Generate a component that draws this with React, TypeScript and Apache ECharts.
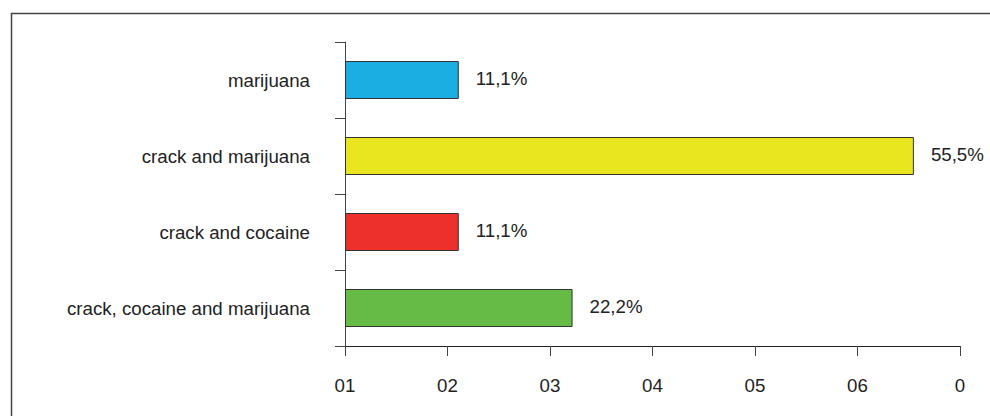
import React, { useEffect, useRef } from "react";
import * as echarts from "echarts";

const categories = ["marijuana", "crack and marijuana", "crack and cocaine", "crack, cocaine and marijuana"];
const values = [11.1, 55.5, 11.1, 22.2];
const barColors = ["#1BAEE3", "#E9E620", "#EE302C", "#66BB47"];
const tickLabels = ["01", "02", "03", "04", "05", "06", "0"];

export default function App() {
  const ref = useRef<HTMLDivElement>(null);
  useEffect(() => {
    if (!ref.current) return;
    const chart = echarts.init(ref.current, null, { renderer: "svg" });
    const font = "'Liberation Sans', Arial, sans-serif";
    chart.setOption({
      animation: false,
      backgroundColor: "#fff",
      graphic: [
        {
          type: "rect",
          shape: { x: 11.5, y: 13.5, width: 1000, height: 420 },
          style: { fill: "none", stroke: "#444", lineWidth: 1.5 },
          silent: true,
        },
      ],
      grid: { left: 345, right: 30, top: 42, bottom: 70, containLabel: false },
      xAxis: {
        type: "value",
        min: 0,
        max: 60,
        interval: 10,
        axisLine: { show: true, lineStyle: { color: "#222", width: 1 } },
        axisTick: { show: true, length: 10, lineStyle: { color: "#444" } },
        splitLine: { show: false },
        axisLabel: {
          margin: 30,
          fontSize: 18.7,
          fontFamily: font,
          color: "#222",
          formatter: (v: number) => tickLabels[Math.round(v / 10)] ?? "",
        },
      },
      yAxis: {
        type: "category",
        data: categories,
        inverse: true,
        axisLine: { show: true, lineStyle: { color: "#444", width: 1 } },
        axisTick: { show: true, length: 10, lineStyle: { color: "#444" } },
        axisLabel: { margin: 35, fontSize: 18.7, fontFamily: font, color: "#222" },
      },
      series: [
        {
          type: "bar",
          barWidth: "50%",
          data: values.map((v, i) => ({
            value: v,
            itemStyle: { color: barColors[i], borderColor: "#333", borderWidth: 1 },
          })),
          label: {
            show: true,
            position: "right",
            distance: 17,
            fontSize: 18.7,
            fontFamily: font,
            color: "#222",
            offset: [0, -2],
            formatter: (p: any) => String(p.value).replace(".", ",") + "%",
          },
        },
      ],
    });
    return () => chart.dispose();
  }, []);
  return <div ref={ref} style={{ width: 990, height: 416, position: "absolute", left: 0, top: 0 }} />;
}
